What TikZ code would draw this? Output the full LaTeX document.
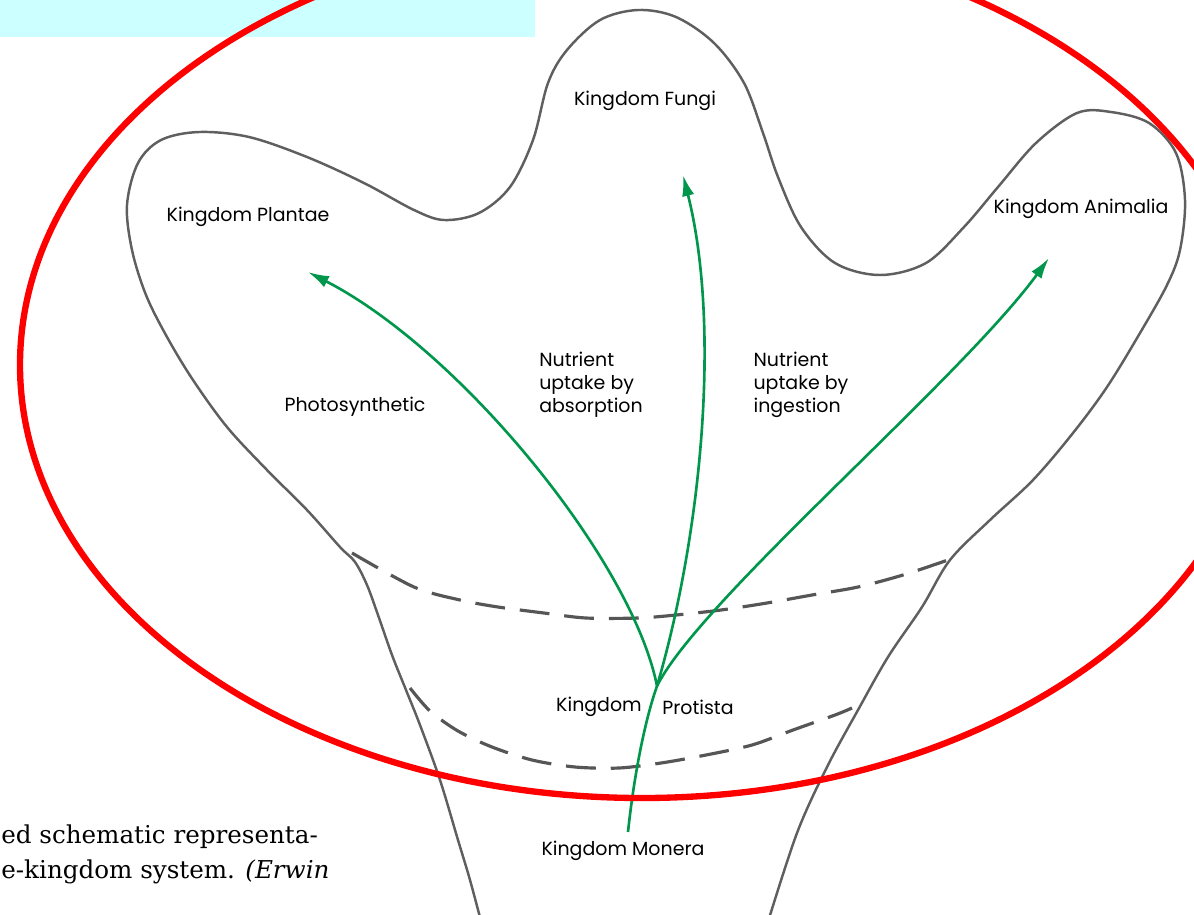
\documentclass[tikz,border=0pt]{standalone}
\usepackage{fontspec}
\usetikzlibrary{arrows.meta}
\newfontfamily\kingfont{Poppins}
\newfontfamily\capfont{DejaVu Serif}
\definecolor{branchgreen}{RGB}{0,150,75}
\definecolor{shapegray}{RGB}{95,95,95}
\definecolor{notecyan}{RGB}{204,255,255}
\tikzset{
    outline/.style={draw=shapegray, line width=1.4pt, line join=round}, % 外轮廓
    border/.style={draw=shapegray!90!black, line width=1.8pt, dash pattern=on 17pt off 8.5pt}, % 界线
    branch/.style={draw=branchgreen, line width=1.5pt}, % 绿色分支
    tip/.style={-{Latex[length=12pt,width=7pt]}},
    king/.style={font=\kingfont\fontsize{10.8}{13}\selectfont, inner sep=0pt, align=left},
    note/.style={font=\capfont\fontsize{14}{17}\selectfont, inner sep=0pt, anchor=base west}
}

\begin{document}
\begin{tikzpicture}[x=0.02cm, y=-0.02cm]
    \useasboundingbox (0,0) rectangle (1194,914);
    \clip (0,0) rectangle (1194,914);

    \fill[notecyan] (0,0) rectangle (535,37);

    % 轮廓
    \draw[outline] plot[smooth, tension=0.55] coordinates {
        (482,925) (470,880) (458,840) (440,780) (420,725) (406,690) (392,655)
        (378,615) (367,585) (355,562) (340,547) (307,510) (267,470) (227,427)
        (193,380) (167,337) (146,295) (132,250) (127,205) (138,163) (161,140)
        (199,132) (249,137) (307,157) (364,183) (414,210) (444,220) (479,213)
        (510,187) (533,140) (548,83) (567,50) (600,20) (638,10) (676,17)
        (714,43) (744,83) (763,133) (778,177) (801,227) (835,263) (880,275)
        (926,263) (964,227) (998,187) (1036,143) (1077,113) (1111,112) (1149,123)
        (1176,153) (1185,200) (1180,250) (1167,285) (1140,333) (1107,387) (1073,433)
        (1033,480) (990,520) (950,560) (922,607) (888,657) (858,710) (827,767)
        (797,833) (767,925)};

    \draw[border] plot[smooth] coordinates {(352,553) (414,587) (460,600) (498,607)
        (544,613) (586,618) (638,618) (676,615) (721,610) (767,603) (812,595)
        (858,587) (903,575) (948,560)};
    \draw[border] plot[smooth] coordinates {(410,688) (430,711) (458,731) (492,747)
        (532,760) (575,767) (619,768) (661,763) (706,755) (752,745) (793,730) (835,715) (852,708)};

    % 标签
    \node[king] (fungi) at (645,101) {Kingdom Fungi};
    \node[king] (plantae) at (248,217) {Kingdom Plantae};
    \node[king] (animalia) at (1081,209) {Kingdom Animalia};
    \node[king] (photo) at (355,407) {Photosynthetic};
    \node[king] (absorb) at (591,385) {Nutrient\\uptake by\\absorption};
    \node[king] (ingest) at (801,385) {Nutrient\\uptake by\\ingestion};
    \node[king] (protK) at (599,707) {Kingdom};
    \node[king] (protP) at (698,707) {Protista};
    \node[king] (monera) at (623,851) {Kingdom Monera};

    \coordinate (root) at (628,832);
    \coordinate (fork) at (657,686);
    \coordinate (tipP) at (308,272);
    \coordinate (tipF) at (683,175);
    \coordinate (tipA) at (1049,258);

    \draw[branch] (root) .. controls (634,775) and (645,720) .. (fork);
    \draw[branch, tip] (fork) .. controls (632,560) and (460,350) .. (tipP);
    \draw[branch, tip] (fork) .. controls (700,540) and (722,330) .. (tipF);
    \draw[branch, tip] (fork) .. controls (700,600) and (960,380) .. (tipA);

    \node[note] (cap1) at (1,843) {ed schematic representa-};
    \node[note] (cap2) at (1,878) {e-kingdom system. \textit{(Erwin}};

    \draw[red, line width=3.6pt] (642,365) ellipse [x radius=622, y radius=433];
\end{tikzpicture}
\end{document}
